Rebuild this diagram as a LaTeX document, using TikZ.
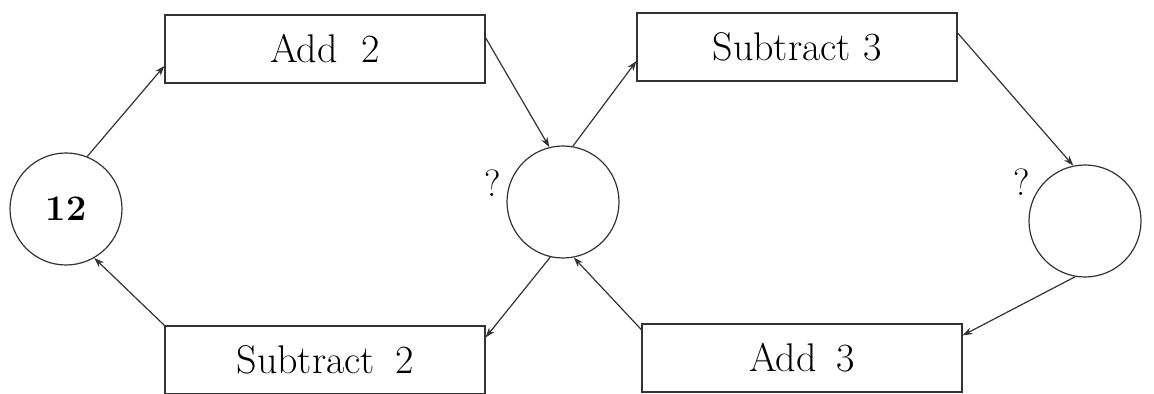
\documentclass[tikz,border=0pt]{standalone}
\usepackage{fontspec}
\usepackage{tikz}
\usetikzlibrary{arrows.meta}

\begin{document}
\begin{tikzpicture}[x=0.5pt, y=-0.5pt,
  opbox/.style={draw=black!80, line width=0.6pt, minimum width=160pt, minimum height=34pt, inner sep=0pt, font=\fontsize{20}{24}\selectfont},
  numcirc/.style={draw=black!80, line width=0.6pt, circle, minimum size=56pt, inner sep=0pt, font=\fontsize{18}{22}\selectfont},
  flow/.style={draw=black!80, line width=0.6pt, -{Stealth[length=5pt, width=3.5pt]}}]

\useasboundingbox (0,0) rectangle (1154,394);

% Start number
\node[numcirc] (start) at (66,209) {\bfseries 12};

% Middle number
\node[numcirc] (middle) at (563,202) {};
\path
(493,183) node [font=\fontsize{19}{22}\selectfont] (qmiddle) {?};

% Right number
\node[numcirc] (right) at (1085,221) {};
\path
(1022,182) node [font=\fontsize{19}{22}\selectfont] (qright) {?};

% Operations, upper row
\node[opbox] (addtwo) at (325,49) {Add\hspace{0.6em}2};
\node[opbox] (subthree) at (797,47) {Subtract 3};

% Operations, lower row
\node[opbox] (subtwo) at (325,360) {Subtract\hspace{0.5em}2};
\node[opbox] (addthree) at (802,358) {Add\hspace{0.5em}3};

% Forward arrows
\draw[flow] (start.68) -- (addtwo.186);
\draw[flow] (addtwo.4) -- (middle.104);
\draw[flow] (middle.80) -- (subthree.185);
\draw[flow] (subthree.5) -- (right.102);

% Backward arrows
\draw[flow] (right.260) -- (addthree.8);
\draw[flow] (addthree.170) -- (middle.281);
\draw[flow] (middle.257) -- (subtwo.8);
\draw[flow] (subtwo.north west) -- (start.300);

\end{tikzpicture}
\end{document}
